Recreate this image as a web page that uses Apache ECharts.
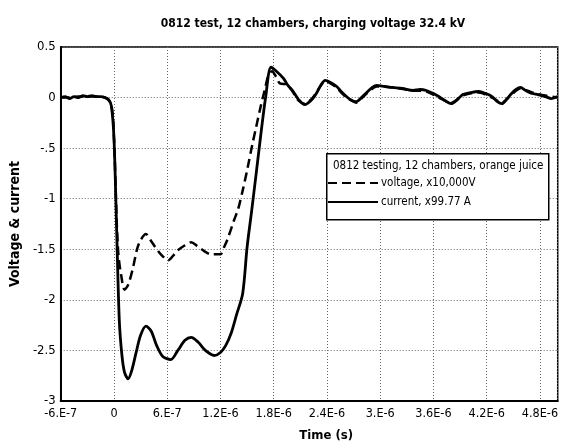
<!DOCTYPE html>
<html>
<head>
<meta charset="utf-8">
<script src="https://cdn.jsdelivr.net/npm/echarts@6/dist/echarts.min.js"></script>
<style>html,body{margin:0;padding:0;background:#fff}#c{width:561px;height:447px}</style>
</head>
<body>
<div id="c"></div>
<script>
// ---- data (time in seconds, values in scaled units) ----
var currentTime = [-6.0e-7,-5.5e-7,-5.0e-7,-4.5e-7,-4.0e-7,-3.5e-7,-3.0e-7,-2.5e-7,-2.0e-7,-1.5e-7,-1.0e-7,-0.6e-7,-0.3e-7,0.0,0.3e-7,0.6e-7,0.9e-7,1.2e-7,1.6e-7,2.0e-7,2.5e-7,3.0e-7,3.6e-7,4.2e-7,4.8e-7,5.5e-7,6.4e-7,7.2e-7,8.0e-7,8.7e-7,9.5e-7,10.3e-7,11.3e-7,12.0e-7,12.6e-7,13.2e-7,13.8e-7,14.5e-7,15.0e-7,15.5e-7,16.0e-7,16.5e-7,17.1e-7,17.7e-7,18.3e-7,19.1e-7,19.6e-7,20.2e-7,20.8e-7,21.5e-7,22.2e-7,22.8e-7,23.3e-7,23.8e-7,24.4e-7,25.1e-7,25.6e-7,26.2e-7,26.8e-7,27.3e-7,28.0e-7,28.6e-7,29.1e-7,29.6e-7,30.5e-7,31.4e-7,32.5e-7,33.7e-7,34.5e-7,35.2e-7,36.0e-7,36.6e-7,37.3e-7,38.0e-7,38.7e-7,39.3e-7,40.2e-7,41.1e-7,41.9e-7,42.6e-7,43.2e-7,43.7e-7,44.3e-7,44.8e-7,45.3e-7,45.8e-7,46.4e-7,47.1e-7,47.8e-7,48.6e-7,49.3e-7,50.0e-7];
var currentValues = [0.00,0.01,-0.01,0.01,0.00,0.02,0.01,0.02,0.01,0.01,0.00,-0.02,-0.08,-0.40,-1.30,-2.20,-2.55,-2.72,-2.78,-2.70,-2.52,-2.35,-2.26,-2.31,-2.45,-2.56,-2.59,-2.50,-2.40,-2.37,-2.42,-2.50,-2.55,-2.52,-2.45,-2.33,-2.15,-1.94,-1.48,-1.13,-0.77,-0.40,0.01,0.30,0.26,0.19,0.12,0.06,-0.02,-0.07,-0.03,0.04,0.12,0.17,0.15,0.11,0.06,0.01,-0.03,-0.04,0.01,0.06,0.10,0.12,0.11,0.10,0.09,0.07,0.08,0.07,0.04,0.01,-0.03,-0.06,-0.02,0.03,0.05,0.06,0.04,0.01,-0.04,-0.06,-0.01,0.04,0.08,0.10,0.07,0.04,0.03,0.01,-0.01,0.01];
var voltageTime = [-6.0e-7,-5.0e-7,-4.0e-7,-3.0e-7,-2.0e-7,-1.0e-7,-0.3e-7,0.0,0.3e-7,0.5e-7,0.8e-7,1.2e-7,1.6e-7,2.1e-7,2.6e-7,3.0e-7,3.6e-7,4.2e-7,4.9e-7,5.5e-7,6.1e-7,6.7e-7,7.2e-7,8.0e-7,8.7e-7,9.4e-7,10.2e-7,10.9e-7,11.5e-7,12.0e-7,12.4e-7,12.8e-7,13.5e-7,14.0e-7,14.5e-7,15.0e-7,15.6e-7,16.0e-7,16.5e-7,17.0e-7,17.4e-7,17.8e-7,18.3e-7,18.7e-7,19.5e-7,20.2e-7,20.8e-7,21.5e-7,22.2e-7,22.8e-7,23.3e-7,23.8e-7,24.4e-7,25.1e-7,25.6e-7,26.2e-7,26.8e-7,27.3e-7,28.0e-7,28.6e-7,29.6e-7,31.4e-7,33.7e-7,35.2e-7,36.6e-7,38.0e-7,39.3e-7,41.1e-7,42.6e-7,43.7e-7,44.8e-7,45.8e-7,47.1e-7,48.6e-7,50.0e-7];
var voltageValues = [0.00,0.00,0.01,0.01,0.01,0.00,-0.07,-0.40,-1.20,-1.55,-1.75,-1.90,-1.85,-1.70,-1.50,-1.41,-1.35,-1.42,-1.51,-1.57,-1.61,-1.56,-1.51,-1.46,-1.43,-1.47,-1.52,-1.55,-1.55,-1.55,-1.48,-1.40,-1.22,-1.10,-0.92,-0.72,-0.46,-0.30,-0.10,0.08,0.22,0.26,0.20,0.14,0.13,0.05,-0.03,-0.06,-0.02,0.05,0.12,0.16,0.14,0.10,0.05,0.00,-0.03,-0.05,0.00,0.05,0.11,0.10,0.07,0.06,0.00,-0.05,0.02,0.05,0.00,-0.05,0.03,0.09,0.05,0.02,0.00];
var xTickLabels = ['-6.E-7','0','6.E-7','1.2E-6','1.8E-6','2.4E-6','3.E-6','3.6E-6','4.2E-6','4.8E-6'];
var yTickLabels = ['-3','-2.5','-2','-1.5','-1','-.5','0','0.5'];
var seriesNames = ['voltage, x10,000V','current, x99.77 A'];
var titleText = '0812 test, 12 chambers, charging voltage 32.4 kV';
var legendTitle = '0812 testing, 12 chambers, orange juice';

var xMin = -6e-7, xMax = 5e-6, xInterval = 6e-7;
var yMin = -3, yMax = 0.5, yInterval = 0.5;

function pairs(t, v) { return t.map(function (x, i) { return [x, v[i]]; }); }

var FONT = '"Liberation Sans Narrow","DejaVu Sans Condensed","Liberation Sans",sans-serif';
var chart = echarts.init(document.getElementById('c'), null, {renderer: 'canvas'});
chart.setOption({
  animation: false,
  backgroundColor: '#fff',
  title: {
    text: titleText, left: 308, top: 13, textAlign: 'center',
    textStyle: {fontFamily: FONT, fontSize: 12, fontWeight: 'bold', color: '#000'}
  },
  grid: {left: 59, right: 2, top: 47, bottom: 42, show: true, borderColor: '#000', borderWidth: 1.5, backgroundColor: 'transparent'},
  xAxis: {
    type: 'value', min: xMin, max: xMax, interval: xInterval,
    name: 'Time (s)', nameLocation: 'middle', nameGap: 28,
    nameTextStyle: {fontFamily: FONT, fontSize: 13, fontWeight: 'bold', color: '#000', padding: [0, 0, 0, 34]},
    axisLine: {show: true, onZero: false, lineStyle: {color: '#000', width: 2}},
    axisTick: {show: false},
    axisLabel: {
      showMaxLabel: false, margin: 6, color: '#000', fontFamily: FONT, fontSize: 12.5,
      formatter: function (v) { var i = Math.round((v - xMin) / xInterval); var d = Math.abs(v - (xMin + i * xInterval)); return d < 1e-9 && xTickLabels[i] ? xTickLabels[i] : ''; }
    },
    splitLine: {show: true, lineStyle: {color: '#666', type: [1, 2], width: 1}}
  },
  yAxis: {
    type: 'value', min: yMin, max: yMax, interval: yInterval,
    name: 'Voltage & current', nameLocation: 'middle', nameGap: 34, nameRotate: 90,
    nameTextStyle: {fontFamily: FONT, fontSize: 14, fontWeight: 'bold', color: '#000'},
    axisLine: {show: true, onZero: false, lineStyle: {color: '#000', width: 2}},
    axisTick: {show: false},
    axisLabel: {
      margin: 5, color: '#000', fontFamily: FONT, fontSize: 13,
      formatter: function (v) { var i = Math.round((v - yMin) / yInterval); return yTickLabels[i] || ''; }
    },
    splitLine: {show: true, lineStyle: {color: '#666', type: [1, 2], width: 1}}
  },
  legend: {
    data: seriesNames, orient: 'vertical', left: 327, top: 177, z: 20,
    itemWidth: 50, itemHeight: 10, itemGap: 7, padding: 0,
    itemStyle: {opacity: 0},
    textStyle: {fontFamily: FONT, fontSize: 11.5, color: '#000', padding: [0, 0, 0, -2]}
  },
  graphic: [
    {type: 'rect', left: 326, top: 153, shape: {width: 222, height: 66}, style: {fill: '#fff', stroke: '#000', lineWidth: 1.5}, z: 1},
    {type: 'text', left: 333, top: 160, style: {text: legendTitle, font: '11.5px ' + FONT, fill: '#000'}, z: 2}
  ],
  series: [
    {name: seriesNames[0], type: 'line', data: pairs(voltageTime, voltageValues), showSymbol: false, symbol: 'none', smooth: 0.3,
     lineStyle: {color: '#000', width: 2.5, type: [9, 5]}, itemStyle: {color: '#000'}, z: 3},
    {name: seriesNames[1], type: 'line', data: pairs(currentTime, currentValues), showSymbol: false, symbol: 'none', smooth: 0.3,
     lineStyle: {color: '#000', width: 2.8}, itemStyle: {color: '#000'}, z: 4}
  ]
});
</script>
</body>
</html>
